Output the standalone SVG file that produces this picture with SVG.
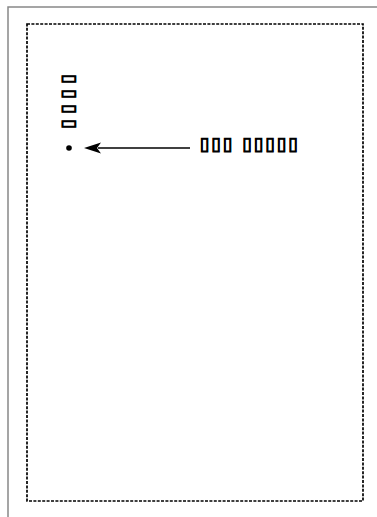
<svg xmlns="http://www.w3.org/2000/svg" width="377" height="517" viewBox="0 0 377 517">
<style>
.lbl{font-family:"DejaVu Sans","Liberation Sans",sans-serif;font-size:18px;font-weight:bold;fill:#000;stroke:#000;stroke-width:1}
</style>
<rect width="377" height="517" fill="#fff"/>
<rect x="8" y="7" width="420" height="560" fill="none" stroke="#888" stroke-width="1.5"/>
<rect x="27" y="24" width="336" height="477" fill="none" stroke="#000" stroke-width="1.7" stroke-dasharray="3 1.4"/>
<g id="vlabel"><text class="lbl" letter-spacing="5.1" transform="translate(63.5 74) rotate(90)">▯▯▯▯</text></g>
<g id="dot"><circle cx="69" cy="148" r="2.8" fill="#000"/></g>
<g id="label"><text class="lbl" letter-spacing="1.6" x="199.5" y="149.5">▯▯▯ ▯▯▯▯▯</text></g>
<g id="connectors"><line x1="190" y1="148" x2="98" y2="148" stroke="#000" stroke-width="1.7"/><path d="M84,148 L101,142.5 L97,148 L101,153.5 Z" fill="#000"/></g>
</svg>
